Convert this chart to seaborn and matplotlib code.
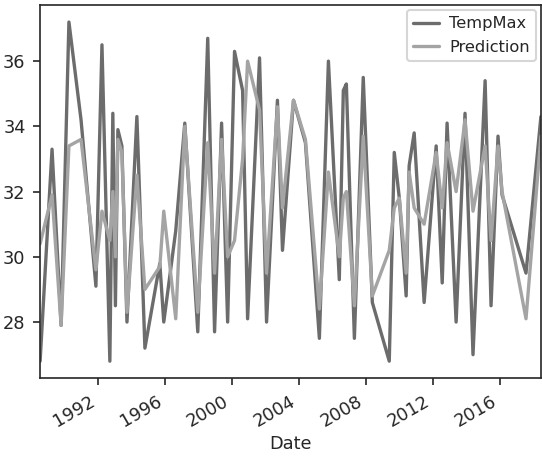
import pandas as pd
import matplotlib
matplotlib.use("Agg")
import matplotlib.pyplot as plt
import matplotlib.dates as mdates
import seaborn as sns

# values
dates = [
    "1988-07-19", "1989-04-05", "1989-10-20", "1990-04-08", "1990-12-28",
    "1991-11-17", "1992-03-28", "1992-09-16", "1992-11-20", "1993-01-15",
    "1993-03-10", "1993-06-05", "1993-09-24", "1994-04-28", "1994-10-20",
    "1995-09-10", "1995-12-05", "1996-08-22", "1997-03-07", "1997-12-15",
    "1998-07-20", "1998-12-16", "1999-05-18", "1999-09-27", "2000-02-24",
    "2000-08-18", "2000-12-05", "2001-08-22", "2002-01-22", "2002-09-16",
    "2003-01-04", "2003-09-01", "2004-05-18", "2005-03-18", "2005-10-01",
    "2006-05-26", "2006-08-22", "2006-10-27", "2007-04-20", "2007-10-30",
    "2008-05-15", "2009-05-19", "2009-09-05", "2009-12-24", "2010-05-22",
    "2010-07-27", "2010-11-13", "2011-06-18", "2012-03-06", "2012-07-16",
    "2012-10-30", "2013-05-15", "2013-11-25", "2014-05-18", "2015-02-06",
    "2015-06-15", "2015-11-14", "2016-02-10", "2017-07-16", "2018-06-06",
]
temp_max = [
    26.8, 33.3, 27.9, 37.2, 34.2, 29.1, 36.5, 26.8, 34.4, 28.5,
    33.9, 33.4, 28.0, 34.3, 27.2, 29.8, 28.0, 30.8, 34.1, 27.7,
    36.7, 27.7, 34.1, 28.0, 36.3, 35.1, 28.1, 36.1, 28.0, 34.8,
    30.2, 34.8, 33.5, 27.5, 36.0, 29.3, 35.1, 35.3, 27.5, 35.5,
    28.6, 26.8, 33.2, 31.8, 28.8, 32.8, 33.8, 28.6, 33.4, 29.2,
    34.1, 28.0, 34.4, 27.0, 35.4, 28.5, 33.7, 31.9, 29.5, 34.3,
]
prediction = [
    30.4, 31.9, 27.9, 33.4, 33.6, 29.6, 31.4, 30.5, 32.0, 30.0,
    33.6, 33.2, 28.3, 32.5, 29.0, 29.7, 31.4, 28.1, 34.0, 28.3,
    33.5, 29.5, 33.6, 30.0, 30.5, 33.0, 36.0, 34.5, 29.5, 34.6,
    31.5, 34.8, 33.6, 28.4, 32.6, 30.0, 31.8, 32.0, 28.5, 33.7,
    28.8, 30.2, 31.5, 31.8, 29.5, 32.6, 31.5, 31.0, 33.2, 31.5,
    33.5, 32.0, 34.2, 31.4, 33.4, 30.5, 33.4, 32.0, 28.1, 33.7,
]

df = pd.DataFrame({"Date": pd.to_datetime(dates),
                   "TempMax": temp_max,
                   "Prediction": prediction})

sns.set_style("ticks")
plt.rcParams["font.size"] = 8.5
fig = plt.figure(figsize=(542 / 150, 460 / 150), dpi=150)
ax = fig.add_axes([0.074, 0.178, 0.924, 0.811])

sns.lineplot(data=df, x="Date", y="TempMax", color="#6c6c6c", linewidth=1.6,
             label="TempMax", ax=ax)
sns.lineplot(data=df, x="Date", y="Prediction", color="#a4a4a4", linewidth=1.6,
             label="Prediction", ax=ax)

ax.set_xlim(df["Date"].iloc[0], df["Date"].iloc[-1])
ax.xaxis.set_major_locator(mdates.YearLocator(4))
ax.xaxis.set_major_formatter(mdates.DateFormatter("%Y"))
ax.tick_params(labelsize=8.5)
plt.setp(ax.get_xticklabels(), rotation=30, ha="right")
ax.set_xlabel("Date", fontsize=8.5, labelpad=2)
ax.set_ylabel("")
ax.legend(loc="upper right", fontsize=7.8, handlelength=1.6,
          borderaxespad=0.3, handletextpad=0.6)

fig.savefig("out.png", dpi=150)
